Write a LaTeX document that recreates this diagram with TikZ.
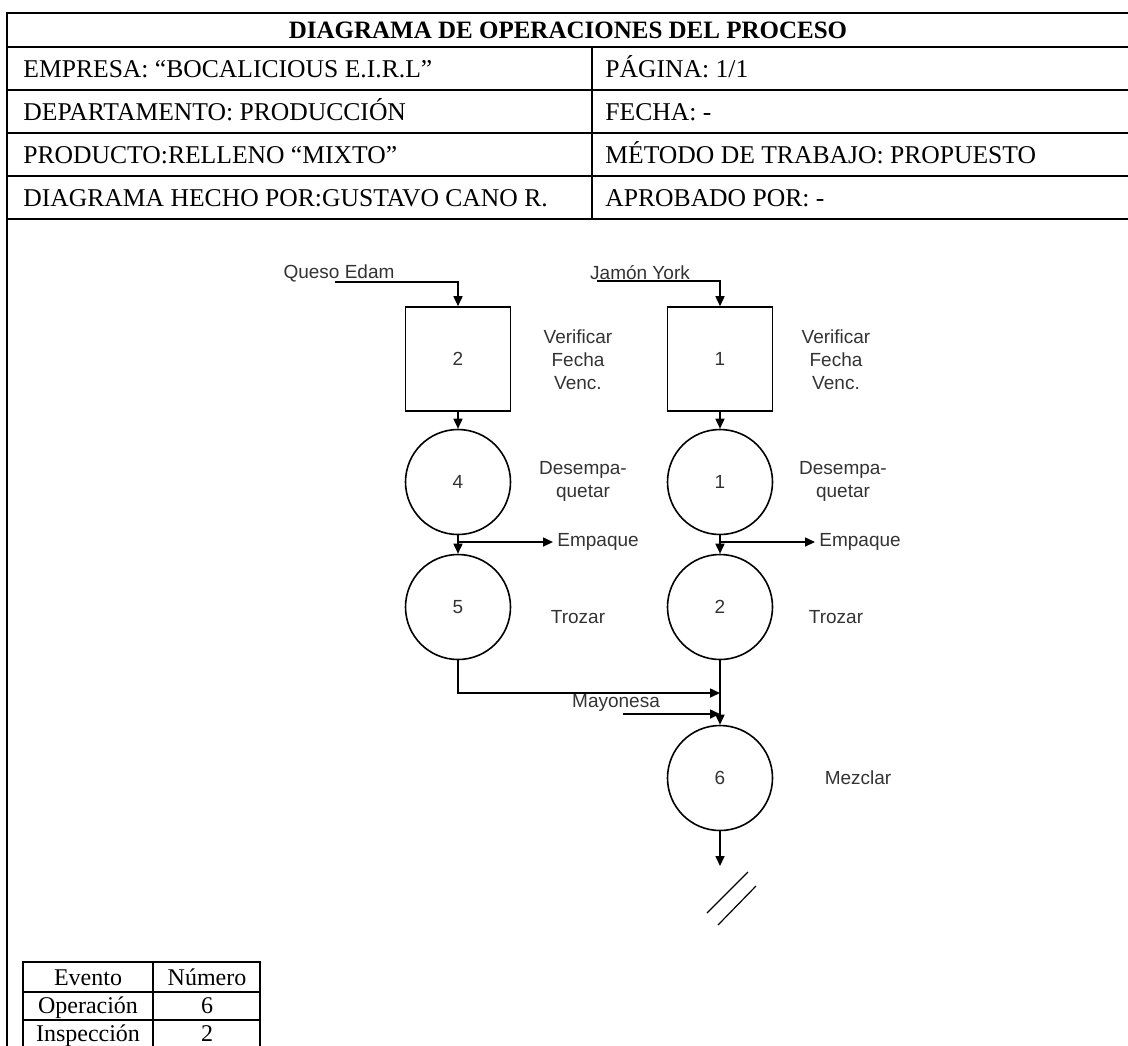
\documentclass[tikz,border=0pt]{standalone}
\usepackage{fontspec}
\setmainfont{Liberation Serif}
\newfontfamily\arialfont{Liberation Sans}
\usetikzlibrary{arrows.meta, positioning}

\begin{document}
\begin{tikzpicture}[x=0.5pt, y=-0.5pt,
    hdr/.style={anchor=base west, inner sep=0pt, font=\fontsize{12.8}{14}\selectfont},
    opbox/.style={draw, line width=0.8pt, minimum width=52.5pt, minimum height=52pt,
                  inner sep=0pt, font=\arialfont\fontsize{9.5}{11}\selectfont, text=black!80},
    opcirc/.style={draw, circle, line width=0.8pt, minimum size=52.5pt,
                   inner sep=0pt, font=\arialfont\fontsize{9.5}{11}\selectfont, text=black!80},
    lbl/.style={align=center, inner sep=0pt, text=black!80,
                font=\arialfont\fontsize{9.5}{11.5}\selectfont},
    flow/.style={-{Triangle[length=5pt, width=4.5pt]}, line width=0.8pt},
    cell/.style={anchor=base, inner sep=0pt, font=\fontsize{12}{14}\selectfont}]
    \useasboundingbox (0,0) rectangle (1128,1045);

    % header table
    \draw[line width=1pt] (1140,13) -- (7,13) -- (7,1060);
    \foreach \y in {47,90,133,176,219}
        \draw[line width=1pt] (7,\y) -- (1140,\y);
    \draw[line width=1pt] (592,47) -- (592,219);

    \node[anchor=base, inner sep=0pt, font=\bfseries\fontsize{12.5}{14}\selectfont] (title) at (568,38) {DIAGRAMA DE OPERACIONES DEL PROCESO};
    \node[hdr] (emp) at (23,77) {EMPRESA: “BOCALICIOUS E.I.R.L”};
    \node[hdr] (pag) at (605,77) {PÁGINA: 1/1};
    \node[hdr] (dep) at (23,120) {DEPARTAMENTO: PRODUCCIÓN};
    \node[hdr] (fec) at (605,120) {FECHA: -};
    \node[hdr] (pro) at (23,163) {PRODUCTO:RELLENO “MIXTO”};
    \node[hdr] (met) at (605,163) {MÉTODO DE TRABAJO: PROPUESTO};
    \node[hdr] (hec) at (23,206) {DIAGRAMA HECHO POR:GUSTAVO CANO R.};
    \node[hdr] (apr) at (605,206) {APROBADO POR: -};

    % left column: queso
    \node[opbox] (box2) at (458,359) {2};
    \node[opcirc] (circ4) at (458,482) {4};
    \node[opcirc] (circ5) at (458,607) {5};
    \node[lbl] (queso) at (339,273) {Queso Edam};
    \coordinate (qin) at (335,282);
    \node[lbl] (ver2) at (578,360) {Verificar\\Fecha\\Venc.};
    \node[lbl] (des4) at (583,481) {Desempa-\\quetar};
    \node[lbl] (tro5) at (578,617) {Trozar};
    \coordinate (e4) at (458,542);
    \node[lbl, anchor=west, inner sep=2pt] (emp4) at (553,542) {Empaque};

    % right column: jamon
    \node[opbox] (box1) at (720,359) {1};
    \node[opcirc] (circ1) at (720,482) {1};
    \node[opcirc] (circ2) at (720,607) {2};
    \node[opcirc] (circ6) at (720,778) {6};
    \node[lbl] (jamon) at (640,273) {Jamón York};
    \coordinate (jin) at (597,281);
    \node[lbl] (ver1) at (836,360) {Verificar\\Fecha\\Venc.};
    \node[lbl] (des1) at (843,481) {Desempa-\\quetar};
    \node[lbl] (tro2) at (836,617) {Trozar};
    \node[lbl] (mez6) at (858,778) {Mezclar};
    \coordinate (e1) at (720,542);
    \node[lbl, anchor=west, inner sep=2pt] (emp1) at (815,542) {Empaque};

    % mezcla
    \coordinate (m5) at (720,693);
    \node[lbl] (mayo) at (616,703) {Mayonesa};
    \coordinate (may) at (623,714);
    \coordinate (m6) at (720,714);
    \coordinate (out) at (720,866);

    \draw[flow] (qin) -| (box2.north);
    \draw[flow] (box2) -- (circ4);
    \draw[flow] (circ4) -- (circ5);
    \draw[flow] (e4) -- (emp4.west);
    \draw[flow] (jin) -| (box1.north);
    \draw[flow] (box1) -- (circ1);
    \draw[flow] (circ1) -- (circ2);
    \draw[flow] (e1) -- (emp1.west);
    \draw[flow] (circ5.south) |- (m5);
    \draw[flow] (may) -- (m6);
    \draw[flow] (circ2) -- (circ6);
    \draw[flow] (circ6) -- (out);
    \draw[line width=0.6pt] (707,913) -- (748,872) (718,925) -- (756,886);

    % resumen
    \draw[line width=1pt] (23,1060) -- (23,962) -- (260,962) -- (260,1060);
    \draw[line width=1pt] (153,962) -- (153,1060);
    \foreach \y in {992,1020,1049}
        \draw[line width=1pt] (23,\y) -- (260,\y);
    \node[cell] (ev) at (88,985) {Evento};
    \node[cell] (nu) at (207,985) {Número};
    \node[cell] (op) at (88,1013) {Operación};
    \node[cell] (opn) at (207,1013) {6};
    \node[cell] (in) at (88,1041) {Inspección};
    \node[cell] (inn) at (207,1041) {2};
\end{tikzpicture}
\end{document}
